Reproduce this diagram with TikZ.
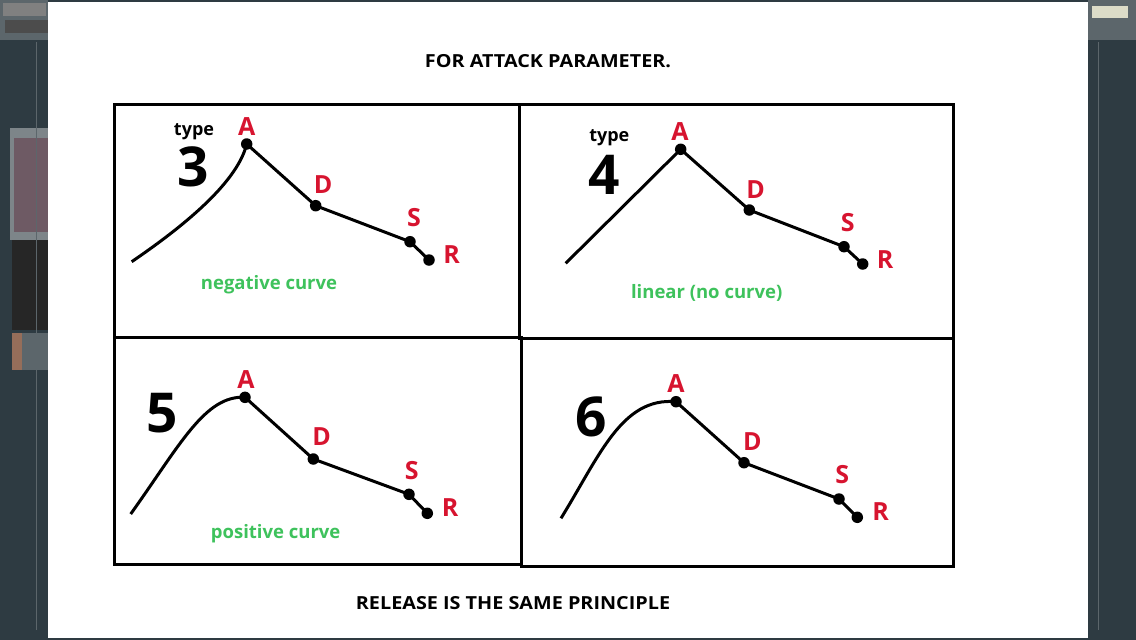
\documentclass[tikz,border=0pt]{standalone}
\usepackage{fontspec}
\setmainfont{Open Sans}
\definecolor{bgdark}{HTML}{2E3B42}
\definecolor{uigray}{HTML}{5C666B}
\definecolor{uipink}{HTML}{6E5A64}
\definecolor{uiorange}{HTML}{966E5A}
\definecolor{uicream}{HTML}{DCDCC8}
\definecolor{lbred}{HTML}{D7142F}
\definecolor{lbgreen}{HTML}{3EC25C}
\begin{document}
\begin{tikzpicture}[x=1pt,y=-1pt,
  panel/.style={draw=black,line width=3pt},
  dot/.style={circle,fill=black,inner sep=0pt,minimum size=11.5pt},
  env/.style={line width=3pt,line join=round},
  letter/.style={text=lbred,font=\fontsize{25}{28}\bfseries\selectfont,inner sep=0pt},
  typelbl/.style={font=\fontsize{18}{20}\bfseries\selectfont,inner sep=0pt},
  num/.style={font=\fontsize{55}{60}\bfseries\selectfont,inner sep=0pt},
  note/.style={text=lbgreen,font=\fontsize{18.5}{21}\bfseries\selectfont,inner sep=0pt},
  title/.style={font=\fontsize{18}{20}\bfseries\selectfont,inner sep=0pt,xscale=1.1}]
\useasboundingbox (0,0) rectangle (1136,640);
% screenshot surroundings
\fill[bgdark] (0,0) rectangle (1136,640);
\fill[uigray] (0,0) rectangle (48,40);
\fill[gray] (3,3) rectangle (46,16);
\fill[black!70] (5,20) rectangle (48,33);
\fill[uigray!80] (10,128) rectangle (48,240);
\fill[uipink] (14,138) rectangle (48,232);
\fill[black!85] (12,240) rectangle (48,330);
\fill[uiorange] (12,333) rectangle (22,370);
\fill[uigray] (22,333) rectangle (48,370);
\draw[uigray,line width=1pt] (36,42) -- (36,630);
\fill[uigray] (1088,0) rectangle (1136,40);
\fill[uicream] (1092,6) rectangle (1128,18);
\draw[uigray,line width=1pt] (1098,42) -- (1098,630);
% page
\fill[white] (48,2) rectangle (1088,638);
% title texts
\node[title] (t1) at (548,61) {FOR ATTACK PARAMETER.};
\node[title] (t2) at (513,603) {RELEASE IS THE SAME PRINCIPLE};
% panels
\draw[panel] (114,104) rectangle (519,337);
\draw[panel] (519,104) rectangle (953,338);
\draw[panel] (114,337) rectangle (521,564);
\draw[panel] (521,338) rectangle (953,566);
% ---- panel 1: type 3
\coordinate (o1) at (131.7,261.7);
\node[dot] (a1) at (246.7,144) {};
\node[dot] (d1) at (315.7,205.7) {};
\node[dot] (s1) at (410,241.7) {};
\node[dot] (r1) at (429,260) {};
\draw[env] (o1) .. controls (190,222) and (238,180) .. (a1.center) -- (d1.center) -- (s1.center) -- (r1.center);
\node[letter] (la1) at (246.7,126.7) {A};
\node[letter] (ld1) at (323,185) {D};
\node[letter] (ls1) at (414,218) {S};
\node[letter] (lr1) at (451.7,255) {R};
\node[typelbl] (ty1) at (194,131.7) {type};
\node[num] (n1) at (193,166.7) {3};
\node[note] (c1) at (269,285) {negative curve};
% ---- panel 2: type 4
\coordinate (o2) at (565.7,263.3);
\node[dot] (a2) at (680.7,149.3) {};
\node[dot] (d2) at (749.3,210) {};
\node[dot] (s2) at (844,246.7) {};
\node[dot] (r2) at (862.7,264) {};
\draw[env] (o2) -- (a2.center) -- (d2.center) -- (s2.center) -- (r2.center);
\node[letter] (la2) at (680,131.7) {A};
\node[letter] (ld2) at (755.7,189.3) {D};
\node[letter] (ls2) at (847.7,222.7) {S};
\node[letter] (lr2) at (885,259.3) {R};
\node[typelbl] (ty2) at (609.3,137.3) {type};
\node[num] (n2) at (604.3,175) {4};
\node[note] (c2) at (706.7,292.7) {linear (no curve)};
% ---- panel 3: type 5
\coordinate (o3) at (130.7,514);
\node[dot] (a3) at (245,397.3) {};
\node[dot] (d3) at (313.3,459) {};
\node[dot] (s3) at (409,494.3) {};
\node[dot] (r3) at (427.3,513.3) {};
\draw[env] (o3) .. controls (180,445) and (205,395) .. (a3.center) -- (d3.center) -- (s3.center) -- (r3.center);
\node[letter] (la3) at (246,380) {A};
\node[letter] (ld3) at (321.7,436.7) {D};
\node[letter] (ls3) at (411.7,471) {S};
\node[letter] (lr3) at (450,507.3) {R};
\node[num] (n3) at (161.7,413.3) {5};
\node[note] (c3) at (275.7,533.3) {positive curve};
% ---- panel 4: type 6
\coordinate (o4) at (561,518.3);
\node[dot] (a4) at (676,401.7) {};
\node[dot] (d4) at (744,462.7) {};
\node[dot] (s4) at (839,499) {};
\node[dot] (r4) at (857.3,517.3) {};
\draw[env] (o4) .. controls (600,455) and (622,397) .. (a4.center) -- (d4.center) -- (s4.center) -- (r4.center);
\node[letter] (la4) at (676,383.3) {A};
\node[letter] (ld4) at (752.3,441.7) {D};
\node[letter] (ls4) at (842.3,474.3) {S};
\node[letter] (lr4) at (880.7,511.7) {R};
\node[num] (n4) at (591,416.7) {6};
\end{tikzpicture}
\end{document}
